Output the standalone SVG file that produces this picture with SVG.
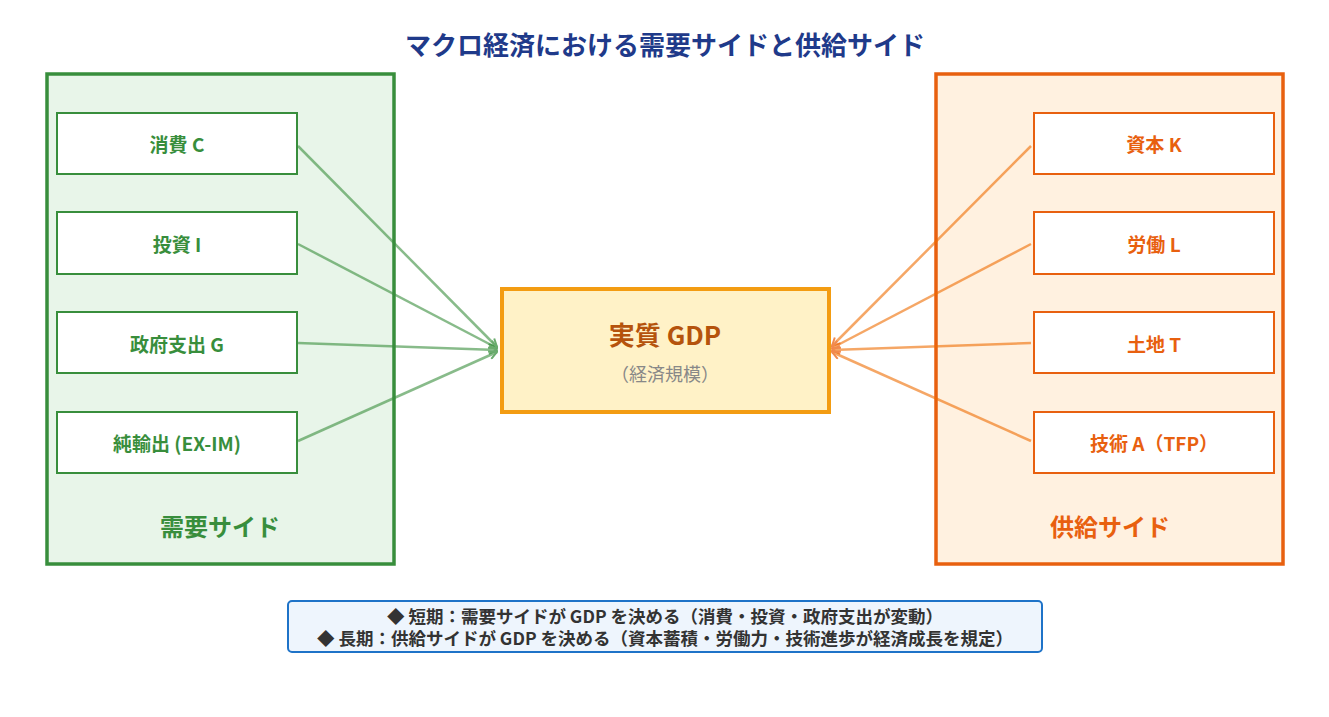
<svg xmlns="http://www.w3.org/2000/svg" width="1329" height="717" viewBox="0 0 1329 717">
<style>
text{font-family:"Noto Sans CJK JP","Noto Sans",sans-serif;text-anchor:middle;dominant-baseline:central;font-weight:bold}
.gi{fill:#fff;stroke:#388e3c;stroke-width:2}
.oi{fill:#fff;stroke:#e8600f;stroke-width:2}
.gt{fill:#388e3c;font-size:19px}
.ot{fill:#e8600f;font-size:19px}
.ga{stroke:#388e3c;stroke-opacity:.6;stroke-width:2.5;fill:none}
.oa{stroke:#ef6c00;stroke-opacity:.6;stroke-width:2.5;fill:none}
.n{font-weight:normal}
</style>
<defs>
<marker id="mg" markerWidth="10" markerHeight="10" refX="9" refY="5" orient="auto" markerUnits="userSpaceOnUse"><path d="M1,1 L9,5 L1,9" fill="none" stroke="#6aab6d" stroke-width="2"/></marker>
<marker id="mo" markerWidth="10" markerHeight="10" refX="9" refY="5" orient="auto" markerUnits="userSpaceOnUse"><path d="M1,1 L9,5 L1,9" fill="none" stroke="#f18a4e" stroke-width="2"/></marker>
</defs>
<rect width="1329" height="717" fill="#fff"/>
<text x="665" y="43" font-size="26" fill="#1f3a8a">マクロ経済における需要サイドと供給サイド</text>
<g id="demand">
<rect x="47" y="74" width="347" height="490" fill="#e8f5e9" stroke="#388e3c" stroke-width="3.5"/>
<text x="220" y="525" font-size="24" fill="#388e3c">需要サイド</text>
</g>
<g id="supply">
<rect x="936" y="74" width="347" height="490" fill="#fff1e0" stroke="#e8600f" stroke-width="3.5"/>
<text x="1110" y="525" font-size="24" fill="#e8600f">供給サイド</text>
</g>
<g id="C"><rect class="gi" x="57" y="113" width="240" height="61"/><text class="gt" x="177" y="143">消費 C</text></g>
<g id="I"><rect class="gi" x="57" y="212" width="240" height="62"/><text class="gt" x="177" y="243">投資 I</text></g>
<g id="G"><rect class="gi" x="57" y="312" width="240" height="61"/><text class="gt" x="177" y="343">政府支出 G</text></g>
<g id="NX"><rect class="gi" x="57" y="412" width="240" height="61"/><text class="gt" x="177" y="442">純輸出 (EX-IM)</text></g>
<g id="K"><rect class="oi" x="1034" y="113" width="240" height="61"/><text class="ot" x="1154" y="143">資本 K</text></g>
<g id="L"><rect class="oi" x="1034" y="212" width="240" height="62"/><text class="ot" x="1154" y="243">労働 L</text></g>
<g id="T"><rect class="oi" x="1034" y="312" width="240" height="61"/><text class="ot" x="1154" y="343">土地 T</text></g>
<g id="A"><rect class="oi" x="1034" y="412" width="240" height="61"/><text class="ot" x="1154" y="442">技術 A（TFP）</text></g>
<g id="gdp">
<rect x="502" y="289" width="327" height="123" fill="#fff2c7" stroke="#f39c12" stroke-width="4"/>
<text x="665" y="333" font-size="26" fill="#b5530c">実質 GDP</text>
<text class="n" x="665" y="373" font-size="18" fill="#888">（経済規模）</text>
</g>
<g id="connectors">
<line class="ga" x1="298" y1="146" x2="497" y2="347" marker-end="url(#mg)"/>
<line class="ga" x1="298" y1="244" x2="497" y2="348" marker-end="url(#mg)"/>
<line class="ga" x1="298" y1="343" x2="497" y2="350" marker-end="url(#mg)"/>
<line class="ga" x1="298" y1="441" x2="497" y2="352" marker-end="url(#mg)"/>
<line class="oa" x1="1031" y1="146" x2="832" y2="346" marker-end="url(#mo)"/>
<line class="oa" x1="1031" y1="244" x2="832" y2="348" marker-end="url(#mo)"/>
<line class="oa" x1="1031" y1="343" x2="832" y2="350" marker-end="url(#mo)"/>
<line class="oa" x1="1031" y1="441" x2="832" y2="352" marker-end="url(#mo)"/>
</g>
<g id="note">
<rect x="288" y="601" width="754" height="51" rx="4" fill="#eef5fd" stroke="#1e73c8" stroke-width="2"/>
<text x="665" y="615" font-size="17.5" fill="#333">◆ 短期：需要サイドが GDP を決める（消費・投資・政府支出が変動）</text>
<text x="665" y="637" font-size="17.5" fill="#333">◆ 長期：供給サイドが GDP を決める（資本蓄積・労働力・技術進歩が経済成長を規定）</text>
</g>
</svg>
